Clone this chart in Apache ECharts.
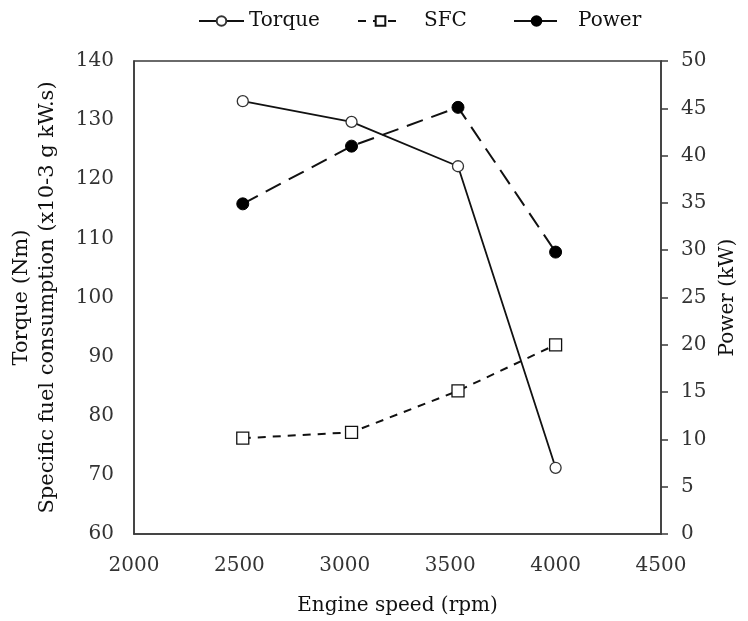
<!DOCTYPE html>
<html>
<head>
<meta charset="utf-8">
<script src="https://cdn.jsdelivr.net/npm/echarts@6/dist/echarts.min.js"></script>
<style>
	html, body { margin: 0; padding: 0; background: #fff; }
	#main { width: 748px; height: 621px; }
</style>
</head>
<body>
<div id="main"></div>
<script>
// engine speed (rpm)
var speed = [2516, 3032, 3537, 4000];
var torque = [133.2, 129.7, 122.2, 71.2];	// Nm
var sfc = [76.2, 77.2, 84.2, 92.0];		// x10-3 g kW.s
var power = [34.9, 41.0, 45.1, 29.8];		// kW

function pairs(xs, ys){
	var out = [];
	for (var i = 0; i < xs.length; i++) {
		out.push([xs[i], ys[i]]);
	}
	return out;
}

var fontName = '"DejaVu Serif", serif';
var axisColor = '#3a3a3a';

// one legend per item so each can sit where it does in the picture
function legendItem(name, left, pad){
	return {
		data : [ name ],
		left : left,
		top : 6,
		itemWidth : 45,
		itemHeight : 12,
		textStyle : {
			color : '#111',
			fontFamily : fontName,
			fontSize : 20,
			padding : [ 0, 0, 0, pad ]
		}
	};
}

var chart = echarts.init(document.getElementById('main'));
var option = {
	backgroundColor : '#fff',
	animation : false,
	legend : [
		legendItem('Torque', 193, 0),
		legendItem('SFC', 352, 16),
		legendItem('Power', 508, 14)
	],
	grid : {
		left : 134,
		right : 87,
		top : 61,
		bottom : 87,
		show : true,
		borderColor : axisColor,
		borderWidth : 1.5
	},
	xAxis : {
		type : 'value',
		min : 2000,
		max : 4500,
		interval : 500,
		name : 'Engine speed (rpm)',
		nameLocation : 'middle',
		nameGap : 62,
		nameTextStyle : {
			color : '#111',
			fontFamily : fontName,
			fontSize : 20
		},
		axisLine : { show : true, lineStyle : { color : axisColor, width : 1.5 } },
		axisTick : { show : false },
		axisLabel : {
			margin : 22,
			color : '#333',
			fontFamily : fontName,
			fontSize : 20,
			formatter : function(v){ return String(v); }
		},
		splitLine : { show : false }
	},
	yAxis : [ {
		type : 'value',
		position : 'left',
		min : 60,
		max : 140,
		interval : 10,
		name : 'Torque (Nm)\nSpecific fuel consumption (x10-3 g kW.s)',
		nameLocation : 'middle',
		nameRotate : 90,
		nameGap : 73,
		nameTextStyle : {
			color : '#111',
			fontFamily : fontName,
			fontSize : 21,
			lineHeight : 26
		},
		axisLine : { show : true, lineStyle : { color : axisColor, width : 1.5 } },
		axisTick : { show : false },
		axisLabel : {
			margin : 20,
			color : '#333',
			fontFamily : fontName,
			fontSize : 20
		},
		splitLine : { show : false }
	}, {
		type : 'value',
		position : 'right',
		min : 0,
		max : 50,
		interval : 5,
		name : 'Power (kW)',
		nameLocation : 'middle',
		nameRotate : 90,
		nameGap : 57,
		nameTextStyle : {
			color : '#111',
			fontFamily : fontName,
			fontSize : 20
		},
		axisLine : { show : true, lineStyle : { color : axisColor, width : 1.5 } },
		axisTick : {
			show : true,
			inside : false,
			length : 7,
			lineStyle : { color : axisColor, width : 1.5 }
		},
		axisLabel : {
			margin : 20,
			color : '#333',
			fontFamily : fontName,
			fontSize : 20
		},
		splitLine : { show : false }
	} ],
	series : [ {
		name : 'Torque',
		type : 'line',
		yAxisIndex : 0,
		data : pairs(speed, torque),
		symbol : 'circle',
		symbolSize : 11,
		lineStyle : { color : '#111', width : 1.8, type : 'solid' },
		itemStyle : { color : '#fff', borderColor : '#333', borderWidth : 1.3 },
		z : 3
	}, {
		name : 'SFC',
		type : 'line',
		yAxisIndex : 0,
		data : pairs(speed, sfc),
		symbol : 'rect',
		symbolSize : 12,
		lineStyle : { color : '#111', width : 2, type : [ 8, 7 ] },
		itemStyle : { color : '#fff', borderColor : '#111', borderWidth : 1.3 },
		z : 3
	}, {
		name : 'Power',
		type : 'line',
		yAxisIndex : 1,
		data : pairs(speed, power),
		symbol : 'circle',
		symbolSize : 12,
		lineStyle : { color : '#111', width : 2, type : [ 17, 9 ] },
		itemStyle : { color : '#000', borderColor : '#000', borderWidth : 1 },
		z : 3
	} ]
};
chart.setOption(option);
</script>
</body>
</html>
